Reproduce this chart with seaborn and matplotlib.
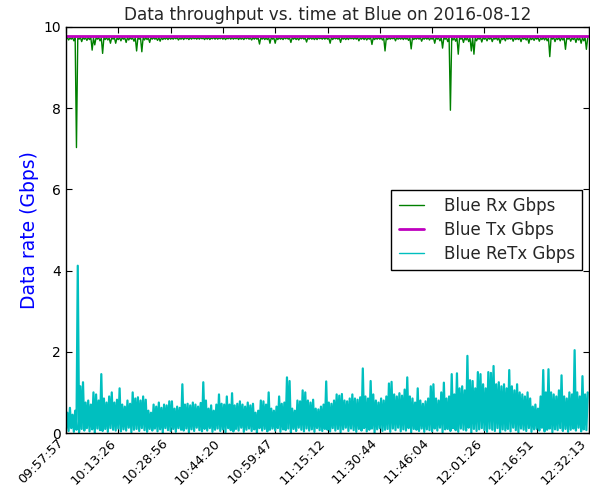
import numpy as np
import pandas as pd
import matplotlib
matplotlib.use("Agg")
import matplotlib.pyplot as plt
import seaborn as sns

# ---------------- data ----------------
title = "Data throughput vs. time at Blue on 2016-08-12"
tick_labels = ["09:57:57", "10:13:26", "10:28:56", "10:44:20", "10:59:47",
               "11:15:12", "11:30:44", "11:46:04", "12:01:26", "12:16:51",
               "12:32:13"]

# Blue Rx Gbps: per-sample low readings (dips)
rx_low = [
    9.70, 9.68, 9.70, 9.66, 7.03, 9.70, 9.64, 9.70, 9.67, 9.69, 9.43, 9.56, 9.70, 9.66, 9.35, 9.69, 9.68, 9.60, 9.70, 9.60,
    9.69, 9.66, 9.70, 9.62, 9.68, 9.70, 9.65, 9.41, 9.70, 9.39, 9.68, 9.69, 9.62, 9.70, 9.70, 9.67, 9.65, 9.69, 9.70, 9.69,
    9.70, 9.70, 9.71, 9.68, 9.70, 9.69, 9.71, 9.69, 9.70, 9.71, 9.70, 9.70, 9.71, 9.69, 9.70, 9.69, 9.71, 9.70, 9.70, 9.71,
    9.70, 9.69, 9.71, 9.70, 9.70, 9.71, 9.69, 9.70, 9.69, 9.71, 9.70, 9.68, 9.70, 9.70, 9.58, 9.70, 9.69, 9.69, 9.60, 9.70,
    9.60, 9.69, 9.70, 9.69, 9.71, 9.70, 9.62, 9.70, 9.69, 9.68, 9.71, 9.70, 9.63, 9.70, 9.70, 9.69, 9.69, 9.71, 9.70, 9.70,
    9.70, 9.60, 9.69, 9.71, 9.70, 9.62, 9.70, 9.69, 9.69, 9.71, 9.70, 9.70, 9.66, 9.70, 9.69, 9.68, 9.70, 9.57, 9.69, 9.70,
    9.70, 9.68, 9.41, 9.69, 9.70, 9.71, 9.66, 9.70, 9.70, 9.69, 9.70, 9.67, 9.46, 9.69, 9.70, 9.70, 9.65, 9.70, 9.70, 9.68,
    9.70, 9.60, 9.70, 9.66, 9.48, 9.70, 9.64, 7.95, 9.68, 9.65, 9.33, 9.70, 9.62, 9.68, 9.64, 9.41, 9.33, 9.66, 9.70, 9.63,
    9.70, 9.66, 9.70, 9.64, 9.70, 9.68, 9.60, 9.69, 9.66, 9.70, 9.70, 9.65, 9.69, 9.69, 9.64, 9.70, 9.68, 9.60, 9.69, 9.67,
    9.70, 9.65, 9.69, 9.68, 9.66, 9.27, 9.70, 9.64, 9.69, 9.66, 9.68, 9.45, 9.70, 9.65, 9.69, 9.62, 9.68, 9.60, 9.66, 9.45,
]
# Blue Rx Gbps: per-sample high readings (just under the Tx line)
rx_high = [
    9.74, 9.73, 9.74, 9.74, 9.73, 9.74, 9.74, 9.73, 9.74, 9.74, 9.73, 9.74, 9.74, 9.73, 9.74, 9.74, 9.73, 9.74, 9.74, 9.73,
    9.74, 9.74, 9.73, 9.74, 9.74, 9.73, 9.74, 9.74, 9.73, 9.74, 9.74, 9.73, 9.74, 9.74, 9.73, 9.74, 9.74, 9.73, 9.74, 9.74,
    9.73, 9.74, 9.74, 9.73, 9.74, 9.74, 9.73, 9.74, 9.74, 9.73, 9.74, 9.74, 9.73, 9.74, 9.74, 9.73, 9.74, 9.74, 9.73, 9.74,
    9.74, 9.73, 9.74, 9.74, 9.73, 9.74, 9.74, 9.73, 9.74, 9.74, 9.73, 9.74, 9.74, 9.73, 9.74, 9.74, 9.73, 9.74, 9.74, 9.73,
    9.74, 9.74, 9.73, 9.74, 9.74, 9.73, 9.74, 9.74, 9.73, 9.74, 9.74, 9.73, 9.74, 9.74, 9.73, 9.74, 9.74, 9.73, 9.74, 9.74,
    9.73, 9.74, 9.74, 9.73, 9.74, 9.74, 9.73, 9.74, 9.74, 9.73, 9.74, 9.74, 9.73, 9.74, 9.74, 9.73, 9.74, 9.74, 9.73, 9.74,
    9.74, 9.73, 9.74, 9.74, 9.73, 9.74, 9.74, 9.73, 9.74, 9.74, 9.73, 9.74, 9.74, 9.73, 9.74, 9.74, 9.73, 9.74, 9.74, 9.73,
    9.74, 9.74, 9.73, 9.74, 9.74, 9.73, 9.74, 9.74, 9.73, 9.74, 9.74, 9.73, 9.74, 9.74, 9.73, 9.74, 9.74, 9.73, 9.74, 9.74,
    9.73, 9.74, 9.74, 9.73, 9.74, 9.74, 9.73, 9.74, 9.74, 9.73, 9.74, 9.74, 9.73, 9.74, 9.74, 9.73, 9.74, 9.74, 9.73, 9.74,
    9.74, 9.73, 9.74, 9.74, 9.73, 9.74, 9.74, 9.73, 9.74, 9.74, 9.73, 9.74, 9.74, 9.73, 9.74, 9.74, 9.73, 9.74, 9.74, 9.73,
]

# Blue Tx Gbps: flat line, value at start and end
tx_gbps = [9.77, 9.77]

# Blue ReTx Gbps: per-sample low and high readings
retx_low = [
    0.10, 0.05, 0.12, 0.03, 0.08, 0.02, 0.10, 0.06, 0.12, 0.04, 0.09, 0.00, 0.11, 0.07, 0.05, 0.10, 0.03, 0.12, 0.08, 0.06,
    0.11, 0.04, 0.09, 0.06, 0.13, 0.02, 0.08, 0.10, 0.05, 0.12, 0.07, 0.03, 0.10, 0.06, 0.11, 0.04, 0.09, 0.01, 0.12, 0.07,
    0.05, 0.10, 0.03, 0.12, 0.08, 0.06, 0.11, 0.02, 0.09, 0.05, 0.13, 0.07, 0.04, 0.10, 0.06, 0.12, 0.03, 0.08, 0.11, 0.05,
    0.09, 0.02, 0.12, 0.07, 0.04, 0.10, 0.06, 0.13, 0.03, 0.08, 0.11, 0.05, 0.09, 0.00, 0.12, 0.06, 0.10, 0.04, 0.08, 0.11,
    0.06, 0.12, 0.03, 0.09, 0.07, 0.11, 0.02, 0.10, 0.05, 0.13, 0.08, 0.04, 0.11, 0.06, 0.09, 0.03, 0.12, 0.07, 0.05, 0.10,
    0.08, 0.04, 0.12, 0.06, 0.10, 0.02, 0.09, 0.13, 0.05, 0.11, 0.07, 0.03, 0.10, 0.06, 0.12, 0.04, 0.08, 0.11, 0.01, 0.09,
    0.12, 0.05, 0.08, 0.10, 0.03, 0.11, 0.07, 0.13, 0.04, 0.09, 0.06, 0.12, 0.02, 0.10, 0.08, 0.05, 0.11, 0.03, 0.09, 0.07,
    0.04, 0.11, 0.06, 0.13, 0.02, 0.09, 0.10, 0.05, 0.12, 0.07, 0.03, 0.11, 0.08, 0.06, 0.13, 0.01, 0.10, 0.05, 0.09, 0.12,
    0.07, 0.03, 0.11, 0.08, 0.05, 0.12, 0.00, 0.09, 0.06, 0.10, 0.04, 0.13, 0.07, 0.02, 0.11, 0.08, 0.05, 0.12, 0.03, 0.09,
    0.10, 0.06, 0.13, 0.04, 0.08, 0.11, 0.02, 0.09, 0.07, 0.12, 0.05, 0.10, 0.03, 0.08, 0.11, 0.06, 0.13, 0.04, 0.09, 0.07,
]
retx_high = [
    0.50, 0.62, 0.45, 0.55, 4.12, 1.15, 1.25, 0.75, 0.80, 0.70, 1.00, 0.95, 0.80, 1.45, 0.85, 0.75, 0.90, 1.00, 0.75, 0.82,
    1.10, 0.70, 0.65, 0.80, 0.72, 1.00, 0.85, 0.88, 0.80, 0.90, 0.82, 0.55, 0.50, 0.70, 0.65, 0.75, 0.62, 0.70, 0.68, 0.78,
    0.78, 0.60, 0.65, 0.62, 1.20, 0.70, 0.72, 0.68, 0.75, 0.70, 0.65, 0.74, 1.25, 0.80, 0.60, 0.68, 0.55, 0.70, 0.95, 0.72,
    0.70, 0.90, 0.70, 0.98, 0.68, 0.72, 0.78, 0.70, 0.65, 0.75, 0.68, 0.72, 0.50, 0.55, 0.80, 0.78, 0.70, 1.00, 0.60, 0.55,
    0.65, 0.90, 0.72, 0.75, 1.37, 1.28, 0.60, 0.55, 0.80, 0.78, 1.05, 1.00, 0.80, 0.75, 0.82, 0.60, 0.58, 0.65, 0.70, 1.27,
    0.75, 0.72, 0.80, 0.95, 0.92, 0.96, 0.80, 0.78, 0.85, 0.95, 0.85, 0.82, 0.88, 1.59, 0.90, 0.85, 1.28, 0.95, 0.80, 0.75,
    0.85, 0.80, 0.90, 1.22, 1.26, 0.95, 0.90, 0.98, 0.92, 1.07, 1.37, 0.90, 0.85, 0.75, 1.10, 0.80, 0.72, 0.78, 0.85, 1.15,
    1.20, 0.85, 0.80, 1.00, 1.24, 0.85, 0.90, 1.45, 0.95, 1.47, 1.10, 1.15, 1.05, 1.90, 1.30, 1.28, 1.10, 1.50, 1.45, 1.20,
    1.10, 1.50, 1.48, 1.65, 1.20, 1.25, 1.15, 1.20, 1.10, 1.55, 1.15, 1.05, 1.20, 1.00, 0.95, 0.90, 1.00, 0.85, 0.65, 0.70,
    0.60, 0.90, 1.55, 1.00, 1.57, 1.00, 0.95, 0.90, 1.05, 1.42, 0.90, 0.85, 1.00, 0.95, 2.04, 1.00, 0.90, 1.40, 0.95, 1.00,
]

# ---------------- build tables ----------------
n = len(rx_low)
sample = np.arange(n, dtype=float)


def pairs(low, high):
    x = np.empty(2 * n)
    y = np.empty(2 * n)
    x[0::2] = sample
    x[1::2] = sample + 0.5
    y[0::2] = low
    y[1::2] = high
    return pd.DataFrame({"sample": x, "rate": y})


rx_df = pairs(rx_low, rx_high)
tx_df = pd.DataFrame({"sample": [0.0, n - 0.5], "rate": tx_gbps})
retx_df = pairs(retx_low, retx_high)

# ---------------- style ----------------
sns.set_style("ticks")
plt.rcParams["font.family"] = ["DejaVu Sans"]
plt.rcParams["xtick.direction"] = "in"
plt.rcParams["ytick.direction"] = "in"

fig = plt.figure(figsize=(5.9, 4.9), dpi=100)
ax = fig.add_axes([66 / 590, 57 / 490, 523 / 590, 406 / 490])

sns.lineplot(data=rx_df, x="sample", y="rate", ax=ax, color="#008000",
             linewidth=1.0, estimator=None, sort=False, label="Blue Rx Gbps")
sns.lineplot(data=tx_df, x="sample", y="rate", ax=ax, color="#bf00bf",
             linewidth=2.0, estimator=None, sort=False, label="Blue Tx Gbps")
sns.lineplot(data=retx_df, x="sample", y="rate", ax=ax, color="#00bfbf",
             linewidth=1.6, estimator=None, sort=False, label="Blue ReTx Gbps")

ax.set_xlim(0, n - 0.5)
ax.set_ylim(0, 10)
step = 20
ax.set_xticks(np.arange(len(tick_labels)) * step)
ax.set_xticklabels(tick_labels, rotation=45, ha="right", fontsize=9.3)
ax.set_yticks([0, 2, 4, 6, 8, 10])
ax.set_yticklabels(["0", "2", "4", "6", "8", "10"], fontsize=10)
ax.tick_params(axis="both", which="major", direction="in", length=4,
               width=0.8, top=True, right=True, colors="black", pad=3.5)
ax.tick_params(axis="x", pad=2.5)
for sp in ax.spines.values():
    sp.set_visible(True)
    sp.set_color("black")
    sp.set_linewidth(1.0)

ax.set_xlabel("")
ax.set_ylabel("Data rate (Gbps)", color="blue", fontsize=13.5, labelpad=3)
ax.set_title(title, fontsize=12.2, pad=5)

leg = ax.legend(loc="center right", fontsize=12, frameon=True, fancybox=False,
                shadow=False, handlelength=1.5, handletextpad=1.2,
                labelspacing=0.35, borderpad=0.45, borderaxespad=0.4)
for line in leg.get_lines():
    line.set_linewidth(1.0)
leg.get_lines()[1].set_linewidth(2.0)
leg.get_frame().set_edgecolor("black")
leg.get_frame().set_linewidth(1.0)
leg.get_frame().set_facecolor("white")
leg.get_frame().set_alpha(1.0)

fig.savefig("out.png", dpi=100, facecolor="white")
